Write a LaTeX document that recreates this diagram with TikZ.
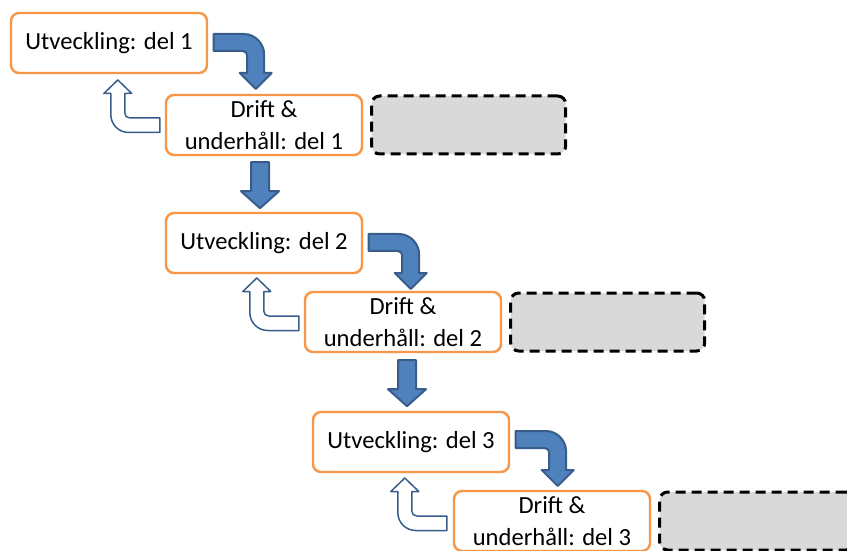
\documentclass[tikz,border=0pt]{standalone}
\usepackage{fontspec}
\setmainfont{Carlito}
\usepackage{tikz}
\usetikzlibrary{positioning,calc}
\definecolor{boxorange}{RGB}{247,150,70}
\definecolor{arrowblue}{RGB}{79,129,189}
\definecolor{arrowedge}{RGB}{56,93,138}
\definecolor{notegray}{RGB}{217,217,217}
\tikzset{
  devbox/.style={draw=boxorange,line width=1.2pt,rounded corners=4pt,fill=white,
    minimum width=98pt,minimum height=30pt,inner sep=0pt,align=center,
    font=\fontsize{12.3}{16}\selectfont},
  notebox/.style={draw=black,line width=1.5pt,dash pattern=on 5pt off 3pt,
    rounded corners=4pt,fill=notegray,minimum width=97pt,minimum height=29pt},
  blockarrow/.style={fill=arrowblue,draw=arrowedge,line width=1pt,line join=round},
  backarrow/.style={fill=white,draw=arrowedge,line width=0.75pt,line join=round},
  pics/bendarrow/.style={code={
    \path[blockarrow] (-42,-55) -- (-12,-55) .. controls (-0.5,-55) and (8.5,-45.5) .. (8.5,-34)
      -- (8.5,-16) -- (16,-16) -- (0,0) -- (-16,-16) -- (-8.5,-16) -- (-8.5,-33)
      .. controls (-8.5,-36) and (-10,-38) .. (-13,-38) -- (-42,-38) -- cycle;}},
  pics/downarrow/.style={code={
    \path[blockarrow] (-9,-46) -- (9,-46) -- (9,-17) -- (19,-17) -- (0,0)
      -- (-19,-17) -- (-9,-17) -- cycle;}},
  pics/uparrow/.style={code={
    \path[backarrow] (0,0) -- (14,13.5) -- (7,13.5) -- (7,33) .. controls (7,36) and (9,38) .. (12,38)
      -- (42,38) -- (42,52.5) -- (11,52.5) .. controls (1,52.5) and (-7,44.5) .. (-7,34.5)
      -- (-7,13.5) -- (-14,13.5) -- cycle;}}
}
\begin{document}
\begin{tikzpicture}[x={(0.5pt,0)},y={(0,-0.5pt)}]
    \useasboundingbox (0,0) rectangle (847,551);
    % development and operations steps
    \node[devbox] (u1) at (109,43) {Utveckling: del 1};
    \node[devbox] (d1) at (264,125) {Drift \&\\underhåll: del 1};
    \node[devbox] (u2) at (264,243) {Utveckling: del 2};
    \node[devbox] (d2) at (403,322) {Drift \&\\underhåll: del 2};
    \node[devbox] (u3) at (411,442) {Utveckling: del 3};
    \node[devbox] (d3) at (552,521) {Drift \&\\underhåll: del 3};
    \node[notebox,right=3.5pt of d1] (g1) {};
    \node[notebox,right=3.5pt of d2] (g2) {};
    \node[notebox,right=3.5pt of d3] (g3) {};
    % forward arrows
    \pic at ($(u1.east)+(47.5,46)$) {bendarrow};
    \pic at ($(u2.east)+(47.5,46)$) {bendarrow};
    \pic at ($(u3.east)+(47.5,44)$) {bendarrow};
    \pic at ($(d1.south)+(-4,52)$) {downarrow};
    \pic at ($(d2.south)+(4,53)$) {downarrow};
    % feedback arrows
    \pic at ($(d1.west)+(-47,-45)$) {uparrow};
    \pic at ($(d2.west)+(-47,-44)$) {uparrow};
    \pic at ($(d3.west)+(-48,-43)$) {uparrow};
\end{tikzpicture}
\end{document}
